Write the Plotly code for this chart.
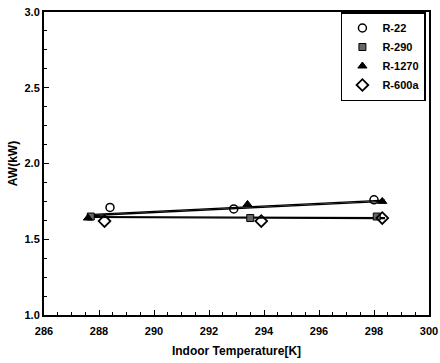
import plotly.graph_objects as go

# Data
r22_T = [288.4, 292.9, 298.0]
r22_AW = [1.71, 1.70, 1.76]
r290_T = [287.7, 293.5, 298.1]
r290_AW = [1.65, 1.64, 1.65]
r1270_T = [287.6, 293.4, 298.3]
r1270_AW = [1.64, 1.73, 1.75]
r600a_T = [288.2, 293.9, 298.3]
r600a_AW = [1.62, 1.62, 1.64]

# Trend lines (endpoints)
upper_T = [287.6, 298.4]
upper_AW_a = [1.662, 1.758]
upper_AW_b = [1.655, 1.750]
lower_T = [287.6, 298.4]
lower_AW_a = [1.650, 1.642]
lower_AW_b = [1.644, 1.636]

series = [
    ("R-22", r22_T, r22_AW, dict(symbol="circle-open", size=8, color="black", line=dict(width=1.5, color="black"))),
    ("R-290", r290_T, r290_AW, dict(symbol="square", size=7, color="#666666", line=dict(width=1, color="black"))),
    ("R-1270", r1270_T, r1270_AW, dict(symbol="triangle-up", size=8, color="black", line=dict(width=1, color="black"))),
    ("R-600a", r600a_T, r600a_AW, dict(symbol="diamond-open", size=9, color="black", line=dict(width=1.8, color="black"))),
]

fig = go.Figure()
for xs, ys in [(upper_T, upper_AW_a), (upper_T, upper_AW_b), (lower_T, lower_AW_a), (lower_T, lower_AW_b)]:
    fig.add_trace(go.Scatter(x=xs, y=ys, mode="lines", line=dict(color="black", width=1.3),
                             showlegend=False, hoverinfo="skip"))
for name, xs, ys, mk in series:
    fig.add_trace(go.Scatter(x=xs, y=ys, mode="markers", name=name, marker=mk))

axis_common = dict(
    showline=True, linecolor="black", linewidth=2, mirror=True,
    ticks="inside", ticklen=5, tickwidth=1.2, tickcolor="black",
    showgrid=False, zeroline=False, automargin=False,
    tickfont=dict(family="Liberation Sans", size=11, color="black", weight="bold"),
)

fig.update_layout(
    width=440, height=363,
    margin=dict(l=44, r=11, t=12, b=48),
    paper_bgcolor="white", plot_bgcolor="white",
    font=dict(family="Liberation Sans", color="black"),
    xaxis=dict(range=[286, 300], dtick=2, tick0=286, ticklabelstandoff=5,
               minor=dict(dtick=0.5, ticks="inside", ticklen=3, tickcolor="black", tickwidth=1),
               title=dict(text="Indoor Temperature[K]", font=dict(size=12, weight="bold"), standoff=10),
               **axis_common),
    yaxis=dict(range=[1.0, 3.0], dtick=0.5, tick0=1.0, tickformat=".1f",
               minor=dict(dtick=0.125, ticks="inside", ticklen=3, tickcolor="black", tickwidth=1),
               title=dict(text="AW(kW)", font=dict(size=12, weight="bold"), standoff=4),
               **axis_common),
    legend=dict(x=0.992, y=1.0, xanchor="right", yanchor="top",
                bordercolor="black", borderwidth=1.5, bgcolor="white",
                font=dict(family="Liberation Sans", size=11, color="black", weight="bold"),
                itemwidth=30, tracegroupgap=0),
    showlegend=True,
)

fig.write_html("out.html")
